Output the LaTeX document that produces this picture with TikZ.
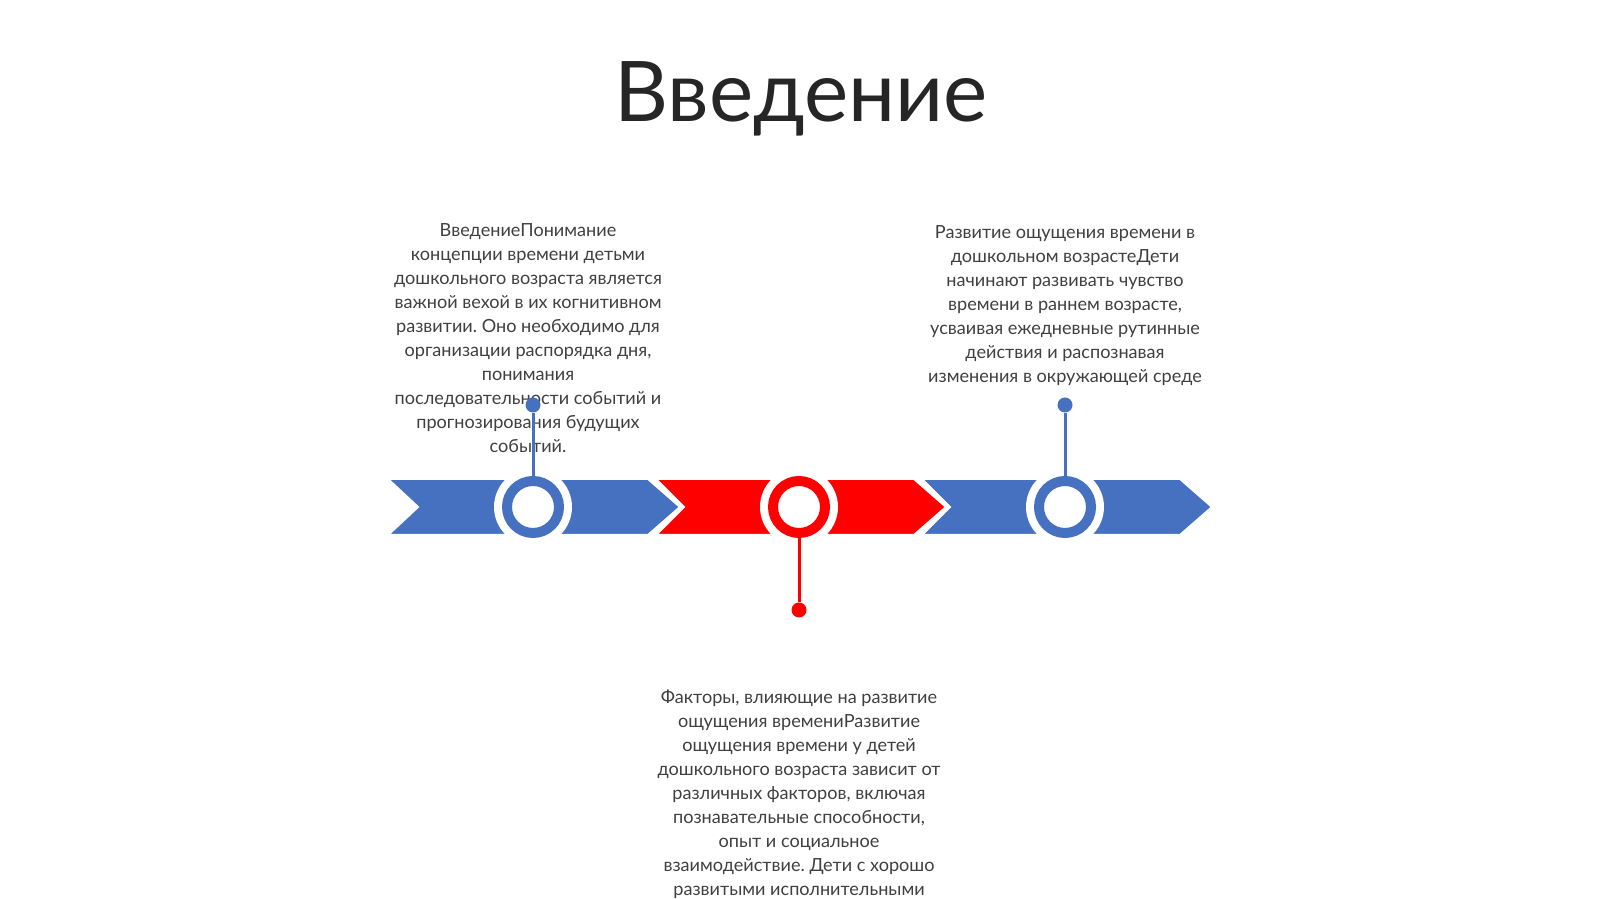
\documentclass[tikz,border=0pt]{standalone}
\usepackage{fontspec}
\setmainfont{Lato}
\usepackage{xcolor}
\usepackage{tikz}
\frenchspacing

\definecolor{tlblue}{RGB}{70,112,192}
\definecolor{tlred}{RGB}{255,0,0}
\definecolor{textgray}{RGB}{64,64,64}
\definecolor{titlegray}{RGB}{38,38,38}

\begin{document}
\begin{tikzpicture}[
        segblue/.style={fill=tlblue, draw=white, line width=0.02cm},
        segred/.style={fill=tlred, draw=white, line width=0.02cm},
        halo/.style={circle, fill=white, inner sep=0, minimum size=0.78cm},
        ring/.style={circle, fill=white, draw=#1, line width=0.1cm, inner sep=0, minimum size=0.52cm},
        dot/.style={circle, fill=#1, inner sep=0, minimum size=0.15cm},
        stem/.style={draw=#1, line width=0.03cm},
        desc/.style={align=center, text=textgray, inner sep=0, font=\fontsize{5.15}{6.83}\selectfont}
    ]
        \clip (0,0) rectangle (16,8.99);

        % Title
        \node[anchor=base, text=titlegray, font=\fontsize{23.8}{28}\selectfont] (title) at (8.01, 7.77) {Введение};

        % Descriptions
        \node[desc] (txt1) at (5.28, 5.605) {ВведениеПонимание\\концепции времени детьми\\дошкольного возраста является\\важной вехой в их когнитивном\\развитии. Оно необходимо для\\организации распорядка дня,\\понимания\\последовательности событий и\\прогнозирования будущих\\событий.};
        \node[desc] (txt2) at (10.65, 5.93) {Развитие ощущения времени в\\дошкольном возрастеДети\\начинают развивать чувство\\времени в раннем возрасте,\\усваивая ежедневные рутинные\\действия и распознавая\\изменения в окружающей среде};
        \node[desc, anchor=north] (txt3) at (7.99, 2.10) {Факторы, влияющие на развитие\\ощущения времениРазвитие\\ощущения времени у детей\\дошкольного возраста зависит от\\различных факторов, включая\\познавательные способности,\\опыт и социальное\\взаимодействие. Дети с хорошо\\развитыми исполнительными};

        % Arrow band
        \filldraw[segblue] (3.88,4.20) -- (6.48,4.20) -- (6.80,3.92) -- (6.48,3.64) -- (3.88,3.64) -- (4.18,3.92) -- cycle;
        \filldraw[segred] (6.56,4.20) -- (9.14,4.20) -- (9.46,3.92) -- (9.14,3.64) -- (6.56,3.64) -- (6.84,3.92) -- cycle;
        \filldraw[segblue] (9.22,4.20) -- (11.80,4.20) -- (12.12,3.92) -- (11.80,3.64) -- (9.22,3.64) -- (9.50,3.92) -- cycle;

        % Milestones
        \node[halo] (h1) at (5.33, 3.92) {};
        \node[halo] (h2) at (7.99, 3.92) {};
        \node[halo] (h3) at (10.65, 3.92) {};
        \node[ring=tlblue] (c1) at (h1) {};
        \node[ring=tlred] (c2) at (h2) {};
        \node[ring=tlblue] (c3) at (h3) {};

        % Stems
        \node[dot=tlblue] (d1) at (5.33, 4.94) {};
        \node[dot=tlred] (d2) at (7.99, 2.89) {};
        \node[dot=tlblue] (d3) at (10.65, 4.94) {};
        \draw[stem=tlblue] (c1.north) -- (d1);
        \draw[stem=tlred] (c2.south) -- (d2);
        \draw[stem=tlblue] (c3.north) -- (d3);
    \end{tikzpicture}
\end{document}
